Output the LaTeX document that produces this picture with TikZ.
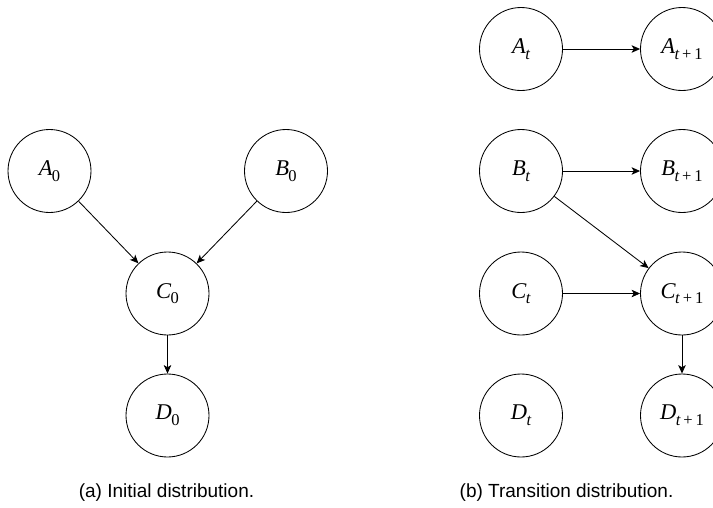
\documentclass[tikz,border=0pt]{standalone}
\usepackage{fontspec}
\setmainfont{Liberation Sans}
\newfontfamily\serifv{Liberation Serif}
\usetikzlibrary{arrows.meta}
\newcommand{\lab}[2]{{\serifv\itshape #1}\kern-0.5pt\raisebox{-5.7pt}{\fontsize{16.5}{17}\selectfont\serifv #2}}
\newcommand{\tp}{{\itshape t}\kern3pt+\kern3pt1}
\tikzset{
  var/.style={circle, draw, line width=0.85pt, minimum size=83pt, inner sep=0pt, font=\fontsize{22.5}{24}\selectfont},
  edge/.style={line width=0.85pt, -{Stealth[length=8.5pt,width=7.5pt,inset=2.2pt]}},
  captext/.style={font=\fontsize{19}{22}\selectfont, inner sep=0pt}
}
\begin{document}
\begin{tikzpicture}[x=1pt,y=-1pt]
\useasboundingbox (0,0) rectangle (713,507);
\clip (0,0) rectangle (713,507);
% (a)
\node[var] (a0) at (49.5,171) {\lab{A}{0}};
\node[var] (b0) at (286,171) {\lab{B}{0}};
\node[var] (c0) at (167.5,293.5) {\lab{C}{0}};
\node[var] (d0) at (167.5,415.5) {\lab{D}{0}};
\draw[edge] (a0) -- (c0);
\draw[edge] (b0) -- (c0);
\draw[edge] (c0) -- (d0);
\node[captext] (capa) at (166.5,492.5) {(a) Initial distribution.};
% (b)
\node[var] (at) at (521,49) {\lab{A}{\itshape t}};
\node[var] (at1) at (682,49) {\lab{A}{\tp}};
\node[var] (bt) at (521,171) {\lab{B}{\itshape t}};
\node[var] (bt1) at (682,171) {\lab{B}{\tp}};
\node[var] (ct) at (521,293.5) {\lab{C}{\itshape t}};
\node[var] (ct1) at (682,293.5) {\lab{C}{\tp}};
\node[var] (dt) at (521,415.5) {\lab{D}{\itshape t}};
\node[var] (dt1) at (682,415.5) {\lab{D}{\tp}};
\draw[edge] (at) -- (at1);
\draw[edge] (bt) -- (bt1);
\draw[edge] (bt) -- (ct1);
\draw[edge] (ct) -- (ct1);
\draw[edge] (ct1) -- (dt1);
\node[captext] (capb) at (566.5,492.5) {(b) Transition distribution.};
\end{tikzpicture}
\end{document}
